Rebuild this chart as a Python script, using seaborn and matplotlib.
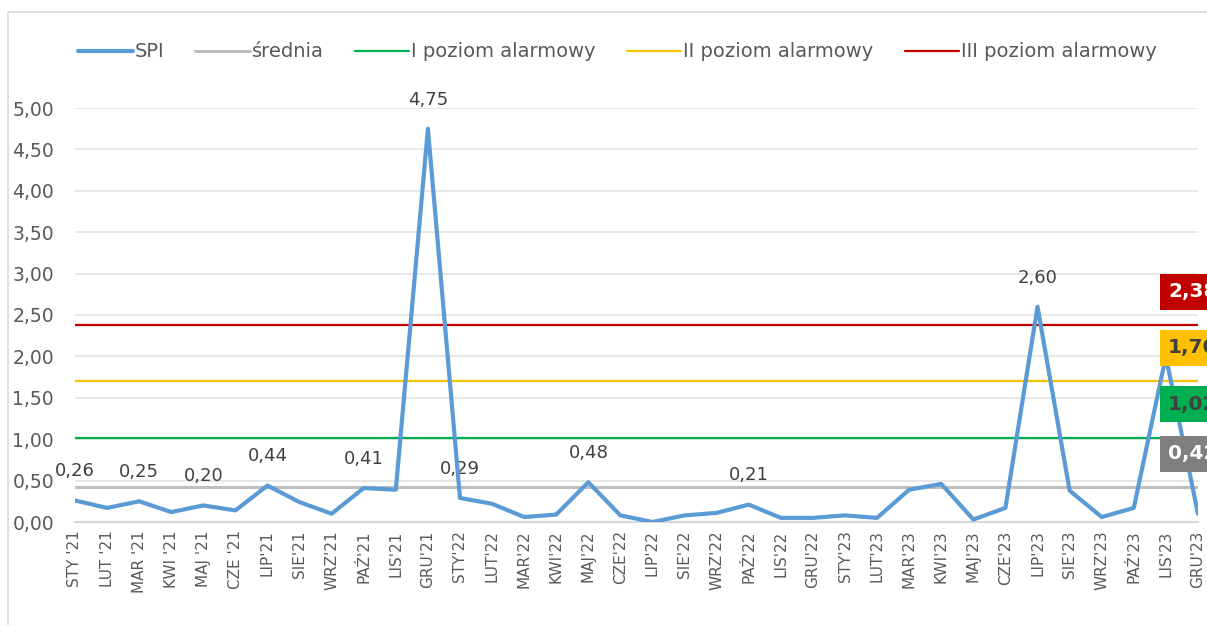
import numpy as np
import pandas as pd
import seaborn as sns
import matplotlib
matplotlib.use("Agg")
import matplotlib.pyplot as plt
from matplotlib.patches import Rectangle

months = ["STY '21", "LUT '21", "MAR '21", "KWI '21", "MAJ '21", "CZE '21",
          "LIP'21", "SIE'21", "WRZ'21", "PAŹ'21", "LIS'21", "GRU'21",
          "STY'22", "LUT'22", "MAR'22", "KWI'22", "MAJ'22", "CZE'22",
          "LIP'22", "SIE'22", "WRZ'22", "PAŹ'22", "LIS'22", "GRU'22",
          "STY'23", "LUT'23", "MAR'23", "KWI'23", "MAJ'23", "CZE'23",
          "LIP'23", "SIE'23", "WRZ'23", "PAŹ'23", "LIS'23", "GRU'23"]
spi = [0.26, 0.17, 0.25, 0.12, 0.20, 0.14, 0.44, 0.24, 0.10, 0.41, 0.39, 4.75,
       0.29, 0.22, 0.06, 0.09, 0.48, 0.08, 0.00, 0.08, 0.11, 0.21, 0.05, 0.05,
       0.08, 0.05, 0.39, 0.46, 0.03, 0.17, 2.60, 0.38, 0.06, 0.17, 2.00, 0.10]
labelled = [0, 2, 4, 6, 9, 11, 12, 16, 21, 30]

srednia = 0.42
poziom_1 = 1.02
poziom_2 = 1.70
poziom_3 = 2.38

levels = ["średnia", "I poziom alarmowy", "II poziom alarmowy", "III poziom alarmowy"]
level_values = [srednia, poziom_1, poziom_2, poziom_3]

sns.set_theme()
sns.set_style("white")
plt.rcParams['font.family'] = ['DejaVu Sans']

blue = "#5b9bd5"
level_colors = ["#bfbfbf", "#00b050", "#ffc000", "#c00000"]
box_colors = ["#7f7f7f", "#00b050", "#ffc000", "#c00000"]
box_text = ["white", "#404040", "#404040", "white"]
txt = "#595959"

fig = plt.figure(figsize=(12.07, 6.25), dpi=100)
ax = fig.add_axes([0.0621, 0.1648, 0.9304, 0.6624])

# chart border (partly cut off)
fig.patches.append(Rectangle((8 / 1207, -0.1), 1.2, (625 - 12) / 625 + 0.1,
                             transform=fig.transFigure, fill=False,
                             ec="#d9d9d9", lw=1.2))

x = np.arange(len(months))
df = pd.DataFrame({"x": x, "SPI": spi})
sns.lineplot(data=df, x="x", y="SPI", ax=ax, color=blue, lw=3.0, label="SPI", zorder=5)
for name, val, col in zip(levels, level_values, level_colors):
    sns.lineplot(x=x, y=[val] * len(x), ax=ax, color=col,
                 lw=2.2 if name == "średnia" else 1.6, label=name, zorder=3)

ax.set_xlim(0, len(months) - 1)
ax.set_ylim(0, 5)
ax.set_yticks(np.arange(0, 5.01, 0.5))
ax.set_yticklabels([f"{v:.2f}".replace(".", ",") for v in np.arange(0, 5.01, 0.5)])
ax.set_xticks(x)
ax.set_xticklabels(months, rotation=90)
ax.tick_params(axis='y', labelsize=13.5, colors=txt, length=0, pad=15)
ax.tick_params(axis='x', labelsize=11, colors=txt, length=0, pad=6)
ax.yaxis.grid(True, color="#e3e3e3", lw=1.2)
ax.set_xlabel("")
ax.set_ylabel("")
for s in ["top", "right", "left"]:
    ax.spines[s].set_visible(False)
ax.spines["bottom"].set_color("#d9d9d9")
ax.spines["bottom"].set_linewidth(1.5)

# data labels on SPI
for i in labelled:
    ax.annotate(f"{spi[i]:.2f}".replace(".", ","), (x[i], spi[i]),
                xytext=(0, 21), textcoords="offset points", ha="center",
                va="center", fontsize=13, color="#404040", annotation_clip=False)

# boxed labels for mean and alarm levels (cut off at the right edge, as in the original)
for val, bc, tc in zip(level_values, box_colors, box_text):
    ax.annotate(f"{val:.2f}".replace(".", ","), (x[-1], val),
                xytext=(-21.5, 24), textcoords="offset points", ha="left",
                va="center", fontsize=14.5, fontweight="bold", color=tc,
                annotation_clip=False, zorder=6,
                bbox=dict(boxstyle="square,pad=0.42", fc=bc, ec="none"))

leg = fig.legend(*ax.get_legend_handles_labels(), loc="center",
                 bbox_to_anchor=(0.5116, 0.917), ncol=5, frameon=False,
                 fontsize=14, handlelength=2.8, handletextpad=0.1,
                 columnspacing=1.6)
for t in leg.get_texts():
    t.set_color(txt)
ax.get_legend().remove()

fig.savefig("out.png", dpi=100)
